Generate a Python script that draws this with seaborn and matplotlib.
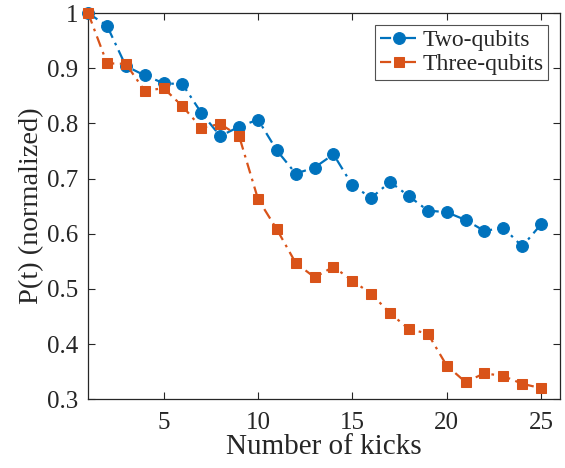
import seaborn as sns
import matplotlib
matplotlib.use('Agg')
from matplotlib import pyplot as plt
from matplotlib.ticker import FuncFormatter
import pandas as pd

kicks = list(range(1, 26))
two_qubits = [1.0, 0.977, 0.904, 0.887, 0.873, 0.871, 0.819, 0.777, 0.794, 0.807,
              0.751, 0.709, 0.720, 0.744, 0.688, 0.665, 0.694, 0.668, 0.642, 0.639,
              0.625, 0.605, 0.611, 0.577, 0.617]
three_qubits = [1.0, 0.909, 0.908, 0.859, 0.864, 0.831, 0.792, 0.799, 0.777, 0.663,
                0.608, 0.547, 0.521, 0.540, 0.515, 0.491, 0.456, 0.427, 0.419, 0.361,
                0.331, 0.347, 0.342, 0.328, 0.320]
x_ticks = [5, 10, 15, 20, 25]
y_ticks = [0.3, 0.4, 0.5, 0.6, 0.7, 0.8, 0.9, 1.0]

sns.set_style('ticks')
plt.rcParams['font.family'] = ['Liberation Serif', 'DejaVu Serif']

df = pd.DataFrame({'kicks': kicks, 'two': two_qubits, 'three': three_qubits})

fig = plt.figure(figsize=(5.65, 4.68), dpi=100)
ax = fig.add_axes([0.156, 0.147, 0.835, 0.825])

blue = '#0072BD'
orange = '#D95319'
dark = '#262626'

sns.lineplot(data=df, x='kicks', y='two', ax=ax, color=blue,
             linewidth=1.6, marker='o', markersize=8.5, markeredgecolor=blue,
             label='Two-qubits', clip_on=False, zorder=3)
sns.lineplot(data=df, x='kicks', y='three', ax=ax, color=orange,
             linewidth=1.6, marker='s', markersize=7.5, markeredgecolor=orange,
             label='Three-qubits', clip_on=False, zorder=4)
# matlab style dash-dot
for ln in ax.lines:
    ln.set_dashes([5, 2.5, 1.2, 2.5])

ax.set_xlim(1, 26)
ax.set_ylim(0.3, 1.0)
ax.set_xticks(x_ticks)
ax.set_yticks(y_ticks)
ax.yaxis.set_major_formatter(FuncFormatter(lambda v, p: f'{v:g}'))
ax.tick_params(direction='in', top=True, right=True, length=5, width=0.8,
               labelsize=18, colors=dark)
ax.tick_params(axis='x', pad=9)
ax.tick_params(axis='y', pad=7)
for s in ax.spines.values():
    s.set_linewidth(0.9)
    s.set_color(dark)

ax.set_xlabel('Number of kicks', fontsize=21, color=dark, labelpad=0)
ax.set_ylabel('P(t) (normalized)', fontsize=20.5, color=dark, labelpad=2)

leg = ax.legend(loc='upper right', fontsize=17, frameon=True, fancybox=False,
                edgecolor=dark, handlelength=1.6, handletextpad=0.2,
                borderpad=0.2, labelspacing=0.1, borderaxespad=0.5)
leg.get_frame().set_linewidth(0.8)

fig.savefig('out.png', dpi=100)
